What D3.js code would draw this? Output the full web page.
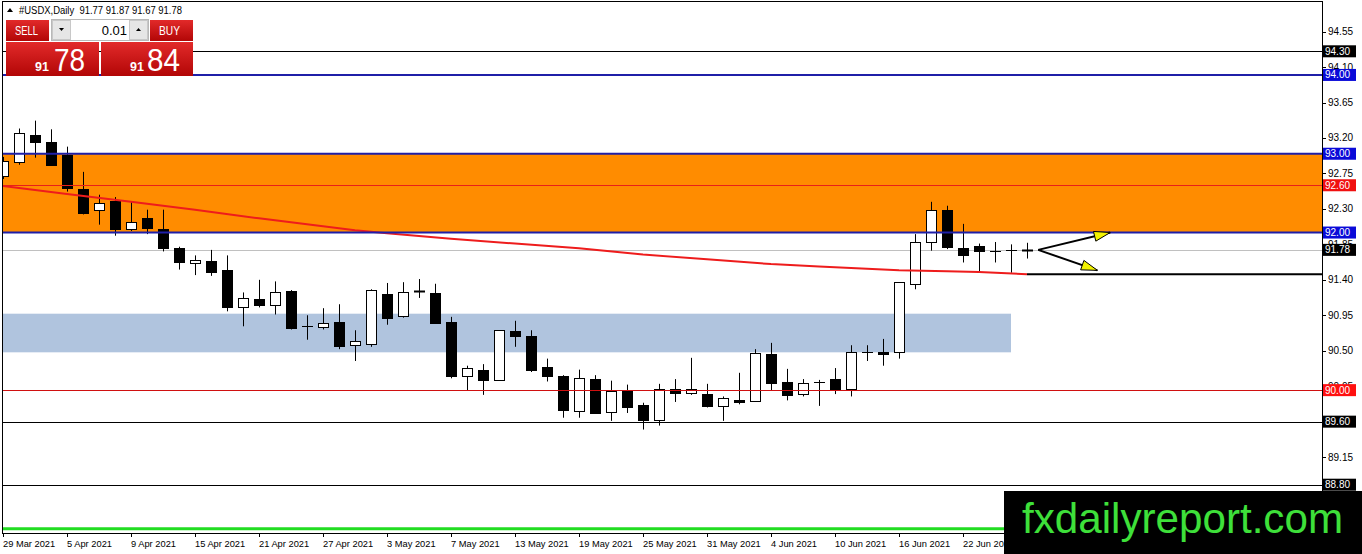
<!DOCTYPE html>
<html>
<head>
<meta charset="utf-8">
<script src="https://cdn.jsdelivr.net/npm/d3@7"></script>
<style>
body { margin: 0; background: #fff; overflow: hidden; }
text { font-family: "Liberation Sans", Arial, sans-serif; }
</style>
</head>
<body>
<svg id="chart" width="1362" height="554"></svg>
<script>
// daily bars
const dates = ["2021-03-29","2021-03-30","2021-03-31","2021-04-01","2021-04-05","2021-04-06","2021-04-07","2021-04-08","2021-04-09",
  "2021-04-12","2021-04-13","2021-04-14","2021-04-15","2021-04-16","2021-04-19","2021-04-20","2021-04-21","2021-04-22","2021-04-23",
  "2021-04-26","2021-04-27","2021-04-28","2021-04-29","2021-04-30","2021-05-03","2021-05-04","2021-05-05","2021-05-06","2021-05-07",
  "2021-05-10","2021-05-11","2021-05-12","2021-05-13","2021-05-14","2021-05-17","2021-05-18","2021-05-19","2021-05-20","2021-05-21",
  "2021-05-24","2021-05-25","2021-05-26","2021-05-27","2021-05-28","2021-05-31","2021-06-01","2021-06-02","2021-06-03","2021-06-04",
  "2021-06-07","2021-06-08","2021-06-09","2021-06-10","2021-06-11","2021-06-14","2021-06-15","2021-06-16","2021-06-17","2021-06-18",
  "2021-06-21","2021-06-22","2021-06-23","2021-06-24","2021-06-25","2021-06-28"]
const open  = [92.72,92.89,93.24,93.15,92.99,92.55,92.28,92.40,92.04,92.18,92.05,91.80,91.61,91.64,91.53,91.06,91.16,91.08,91.26,
  90.81,90.80,90.86,90.57,90.59,91.22,90.94,91.255,91.23,90.86,90.18,90.26,90.13,90.75,90.69,90.29,90.18,89.74,90.14,89.72,
  89.99,89.81,89.62,90.01,89.97,89.95,89.80,89.875,89.86,90.46,90.10,89.95,90.10,90.14,90.02,90.48,90.48,90.48,91.35,91.88,
  92.29,91.81,91.825,91.77,91.78,91.77]
const high  = [92.96,93.32,93.42,93.31,93.09,92.77,92.48,92.45,92.40,92.29,92.29,91.82,91.71,91.78,91.71,91.24,91.40,91.38,91.27,
  90.95,91.04,91.09,90.76,91.28,91.36,91.37,91.41,91.35,90.93,90.31,90.33,90.76,90.88,90.76,90.40,90.19,90.26,90.19,90.12,
  90.07,89.84,90.08,90.14,90.41,90.08,89.92,90.22,90.52,90.60,90.27,90.14,90.13,90.28,90.57,90.57,90.65,91.37,91.98,92.39,
  92.34,92.11,91.86,91.88,91.85,91.87]
const low   = [92.68,92.86,92.95,92.86,92.52,92.23,92.10,91.96,92.02,91.98,91.76,91.53,91.46,91.45,91.00,90.81,91.05,90.96,90.77,
  90.64,90.77,90.52,90.37,90.55,90.83,90.92,91.17,90.84,90.15,90.00,89.94,90.12,90.55,90.23,90.11,89.65,89.65,89.70,89.61,
  89.71,89.50,89.55,89.85,89.94,89.78,89.61,89.82,89.85,90.00,89.87,89.92,89.80,89.95,89.92,90.37,90.31,90.40,91.28,91.77,
  91.79,91.62,91.50,91.62,91.49,91.67]
const close = [92.91,93.26,93.15,92.86,92.56,92.25,92.38,92.04,92.14,92.06,91.81,91.62,91.65,91.50,91.05,91.17,91.08,91.25,90.79,
  90.81,90.85,90.56,90.62,91.27,90.92,91.24,91.245,90.85,90.18,90.28,90.13,90.76,90.69,90.26,90.18,89.75,90.15,89.71,89.99,
  89.79,89.62,90.02,89.96,90.02,89.80,89.90,89.855,90.47,90.09,89.94,90.09,90.10,90.00,90.48,90.48,90.46,91.37,91.88,92.28,
  91.82,91.71,91.77,91.77,91.78,91.78]

// moving average, read at a few bars
const maBar = [0, 4, 8, 12, 16, 20, 22, 24, 28, 32, 36, 40, 44, 48, 51, 53, 56, 59, 61, 64]
const maVal = [92.59,92.49,92.39,92.29,92.18,92.08,92.03,91.99,91.92,91.86,91.80,91.72,91.66,91.60,91.57,91.55,91.52,91.51,91.50,91.47]

// right scale ticks (89.60 sits under its level tag)
const yTicks = [94.55, 94.10, 93.65, 93.20, 92.75, 92.30, 91.85, 91.40, 90.95, 90.50, 90.05, 89.15]

// horizontal levels and their tags
const levelPrices = [94.30, 94.00, 93.00, 92.60, 92.00, 91.78, 90.00, 89.60, 88.80]
const levelKinds  = ["black", "blue", "blue", "red", "blue", "bid", "red2", "black", "black"]
const supportPrice = 91.47
const orangeZone = [92.00, 93.00]
const blueZone = [90.48, 90.97]
const blueZoneEnd = 63
const greenPrice = 88.24

// arrows (bar index, price)
const arrowStart = [64.7, 91.78]
const arrowEnds = [[69.2, 92.00], [68.4, 91.52]]

const bid = "78", ask = "84", big = "91", lot = "0.01"
const title = "#USDX,Daily  91.77 91.87 91.67 91.78"

const plot = {left: 3, right: 1322, top: 2, bottom: 533}

const svg = d3.select('#chart')

const x = d3.scaleLinear().domain([0, 64]).range([3, 1027])
const y = d3.scaleLinear().domain([88.8, 94.3]).range([484.7, 51.3])

const styles = {
  black: {stroke: '#000', w: 1, tag: '#000'},
  blue: {stroke: '#1f1fa8', w: 2, tag: '#0a0ad8'},
  red: {stroke: '#e8201a', w: 1, tag: '#f01010'},
  red2: {stroke: '#d01010', w: 1, tag: '#ff1010'},
  bid: {stroke: '#c0c0c0', w: 1, tag: '#000'}
}

svg.append('clipPath').attr('id', 'clip')
  .append('rect')
  .attr('x', plot.left).attr('y', plot.top)
  .attr('width', plot.right - plot.left).attr('height', plot.bottom - plot.top)

const g = svg.append('g').attr('clip-path', 'url(#clip)')

// zones
g.append('rect')
  .attr('x', plot.left).attr('width', plot.right - plot.left)
  .attr('y', y(orangeZone[1])).attr('height', y(orangeZone[0]) - y(orangeZone[1]))
  .attr('fill', '#ff8c00')
g.append('rect')
  .attr('x', plot.left).attr('width', x(blueZoneEnd) - plot.left)
  .attr('y', y(blueZone[1])).attr('height', y(blueZone[0]) - y(blueZone[1]))
  .attr('fill', '#b0c4de')

// bid line behind the bars
g.append('line')
  .attr('x1', plot.left).attr('x2', plot.right)
  .attr('y1', Math.round(y(91.78)) + 0.5).attr('y2', Math.round(y(91.78)) + 0.5)
  .attr('stroke', '#c0c0c0')

// green line near bottom
g.append('line')
  .attr('x1', plot.left).attr('x2', plot.right)
  .attr('y1', y(greenPrice)).attr('y2', y(greenPrice))
  .attr('stroke', '#22dd22').attr('stroke-width', 3)

// candles
const bars = d3.range(dates.length)
const cg = g.selectAll('.bar').data(bars).enter().append('g')
cg.append('line')
  .attr('x1', i => x(i) + 0.5).attr('x2', i => x(i) + 0.5)
  .attr('y1', i => y(high[i])).attr('y2', i => y(low[i]))
  .attr('stroke', '#000')
cg.each(function(i) {
  const top = y(Math.max(open[i], close[i]))
  const bot = y(Math.min(open[i], close[i]))
  const sel = d3.select(this)
  if (bot - top < 1.5) {
    sel.append('line')
      .attr('x1', x(i) - 5).attr('x2', x(i) + 6)
      .attr('y1', Math.round(top) + 0.5).attr('y2', Math.round(top) + 0.5)
      .attr('stroke', '#000').attr('stroke-width', bot - top > 0.6 ? 2 : 1)
  } else {
    sel.append('rect')
      .attr('x', x(i) - 4.5).attr('width', 10)
      .attr('y', Math.round(top) + 0.5).attr('height', Math.round(bot) - Math.round(top))
      .attr('fill', close[i] >= open[i] ? '#fff' : '#000')
      .attr('stroke', '#000')
  }
})

// moving average
g.append('path')
  .datum(maBar.map((b, j) => [b, maVal[j]]))
  .attr('d', d3.line().x(d => x(d[0])).y(d => y(d[1])))
  .attr('fill', 'none').attr('stroke', '#ee1c1c').attr('stroke-width', 2)

// levels over the bars
levelPrices.forEach((p, j) => {
  const s = styles[levelKinds[j]]
  if (levelKinds[j] == 'bid') return
  const yy = s.w == 1 ? Math.round(y(p)) + 0.5 : y(p)
  g.append('line')
    .attr('x1', plot.left).attr('x2', plot.right)
    .attr('y1', yy).attr('y2', yy)
    .attr('stroke', s.stroke).attr('stroke-width', s.w)
})
g.append('line')
  .attr('x1', x(64)).attr('x2', plot.right)
  .attr('y1', y(supportPrice)).attr('y2', y(supportPrice))
  .attr('stroke', '#000').attr('stroke-width', 2)

// arrows
arrowEnds.forEach(e => {
  const x0 = x(arrowStart[0]), y0 = y(arrowStart[1])
  const x1 = x(e[0]), y1 = y(e[1])
  g.append('line').attr('x1', x0).attr('y1', y0).attr('x2', x1).attr('y2', y1)
    .attr('stroke', '#000').attr('stroke-width', 2)
  const ang = Math.atan2(y1 - y0, x1 - x0)
  const len = 16, half = 5
  const bx = x1 - len * Math.cos(ang), by = y1 - len * Math.sin(ang)
  const pts = [[x1, y1],
    [bx + half * Math.sin(ang), by - half * Math.cos(ang)],
    [bx - half * Math.sin(ang), by + half * Math.cos(ang)]]
  g.append('polygon').attr('points', pts.map(p => p.join(',')).join(' '))
    .attr('fill', '#f2f200').attr('stroke', '#000').attr('stroke-width', 1)
})

// frame
svg.append('rect')
  .attr('x', plot.left - 0.5).attr('y', plot.top - 0.5)
  .attr('width', plot.right - plot.left + 1).attr('height', plot.bottom - plot.top + 1)
  .attr('fill', 'none').attr('stroke', '#000')

// right axis
const ya = svg.append('g')
yTicks.concat([89.60]).forEach(t => {
  ya.append('line').attr('x1', plot.right).attr('x2', plot.right + 4)
    .attr('y1', Math.round(y(t)) + 0.5).attr('y2', Math.round(y(t)) + 0.5).attr('stroke', '#000')
})
yTicks.forEach(t => {
  ya.append('text').attr('x', plot.right + 6).attr('y', y(t) + 3.5)
    .attr('font-size', 10).attr('fill', '#000').text(t.toFixed(2))
})
levelPrices.forEach((p, j) => {
  const s = styles[levelKinds[j]]
  ya.append('rect').attr('x', plot.right + 1).attr('y', y(p) - 6)
    .attr('width', 33).attr('height', 12).attr('fill', s.tag)
  ya.append('text').attr('x', plot.right + 3).attr('y', y(p) + 3.5)
    .attr('font-size', 10).attr('fill', '#fff').text(p.toFixed(2))
})

// bottom axis
const fmt = d3.timeFormat('%-d %b %Y'), parse = d3.timeParse('%Y-%m-%d')
const xa = svg.append('g')
bars.filter(i => i % 4 == 0).forEach(i => {
  xa.append('line').attr('x1', x(i) + 0.5).attr('x2', x(i) + 0.5)
    .attr('y1', plot.bottom).attr('y2', plot.bottom + 4).attr('stroke', '#000')
  xa.append('text').attr('x', x(i)).attr('y', 547)
    .attr('font-size', 9.3).attr('fill', '#000').text(fmt(parse(dates[i])))
})

// title
svg.append('path').attr('d', 'M7,12 L10,8 L13,12 Z').attr('fill', '#000')
svg.append('text').attr('x', 19).attr('y', 13.5).attr('font-size', 10)
  .attr('fill', '#000').attr('textLength', 163).attr('lengthAdjust', 'spacingAndGlyphs')
  .style('white-space', 'pre').text(title)

// trade panel
const defs = svg.append('defs')
const gr = defs.append('linearGradient').attr('id', 'redg').attr('x1', 0).attr('y1', 0).attr('x2', 0).attr('y2', 1)
gr.append('stop').attr('offset', '0%').attr('stop-color', '#e22a2a')
gr.append('stop').attr('offset', '100%').attr('stop-color', '#b20606')
const panel = svg.append('g')
panel.append('rect').attr('x', 6).attr('y', 20).attr('width', 43).attr('height', 21).attr('fill', 'url(#redg)')
panel.append('rect').attr('x', 150).attr('y', 20).attr('width', 43).attr('height', 21).attr('fill', 'url(#redg)')
panel.append('text').attr('x', 15).attr('y', 35).attr('font-size', 13).attr('fill', '#fff')
  .attr('textLength', 23).attr('lengthAdjust', 'spacingAndGlyphs').text('SELL')
panel.append('text').attr('x', 159).attr('y', 35).attr('font-size', 13).attr('fill', '#fff')
  .attr('textLength', 21).attr('lengthAdjust', 'spacingAndGlyphs').text('BUY')
panel.append('rect').attr('x', 51.5).attr('y', 19.5).attr('width', 97).attr('height', 21)
  .attr('fill', '#fff').attr('stroke', '#b8b8b8')
panel.append('rect').attr('x', 52.5).attr('y', 20.5).attr('width', 18).attr('height', 19).attr('fill', '#e6e6e6').attr('stroke', '#c8c8c8')
panel.append('rect').attr('x', 129.5).attr('y', 20.5).attr('width', 18).attr('height', 19).attr('fill', '#e6e6e6').attr('stroke', '#c8c8c8')
panel.append('path').attr('d', 'M59,28 L64,28 L61.5,31 Z').attr('fill', '#000')
panel.append('path').attr('d', 'M136,31 L141,31 L138.5,28 Z').attr('fill', '#000')
panel.append('text').attr('x', 127).attr('y', 35).attr('font-size', 13).attr('fill', '#000')
  .attr('text-anchor', 'end').text(lot)
panel.append('rect').attr('x', 6).attr('y', 42).attr('width', 93).attr('height', 34).attr('fill', 'url(#redg)')
panel.append('rect').attr('x', 101).attr('y', 42).attr('width', 92).attr('height', 34).attr('fill', 'url(#redg)')
panel.append('text').attr('x', 35).attr('y', 71).attr('font-size', 12.5).attr('font-weight', 'bold').attr('fill', '#fff').text(big)
panel.append('text').attr('x', 54).attr('y', 70.5).attr('font-size', 32).attr('fill', '#fff')
  .attr('textLength', 31).attr('lengthAdjust', 'spacingAndGlyphs').text(bid)
panel.append('text').attr('x', 130).attr('y', 71).attr('font-size', 12.5).attr('font-weight', 'bold').attr('fill', '#fff').text(big)
panel.append('text').attr('x', 147).attr('y', 70.5).attr('font-size', 32).attr('fill', '#fff')
  .attr('textLength', 33).attr('lengthAdjust', 'spacingAndGlyphs').text(ask)

// watermark
svg.append('rect').attr('x', 1004).attr('y', 491).attr('width', 358).attr('height', 63).attr('fill', '#000')
svg.append('text').attr('x', 1022).attr('y', 533).attr('font-size', 42).attr('fill', '#3ee03a')
  .attr('textLength', 321).attr('lengthAdjust', 'spacingAndGlyphs').text('fxdailyreport.com')
</script>
</body>
</html>
